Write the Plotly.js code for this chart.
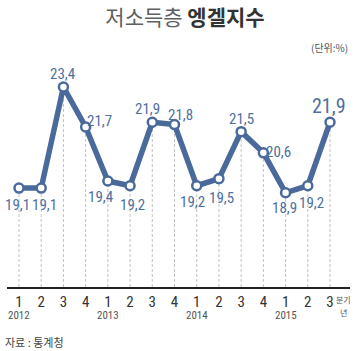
<!DOCTYPE html>
<html><head><meta charset="utf-8">
<script src="https://cdn.plot.ly/plotly-3.0.1.min.js"></script>
<style>html,body{margin:0;padding:0;background:#fff;}#chart{width:357px;height:351px;}</style>
</head><body><div id="chart"></div>
<script>
const quarters = ['1','2','3','4','1','2','3','4','1','2','3','4','1','2','3'];
const years = ['2012','2013','2014','2015'];
const yearStartIdx = [0, 4, 8, 12];
const values = [19.1, 19.1, 23.4, 21.7, 19.4, 19.2, 21.9, 21.8, 19.2, 19.5, 21.5, 20.6, 18.9, 19.2, 21.9];
// label offsets in pixels (style only)
const labelShift = [[-2,17],[3,17],[-1,-13],[14,-6],[-7,16],[2,19],[-5,-13],[6,-10],[-4,16],[3,19],[0,-13],[15,-1],[-1,15],[4,17],[-1,-16]];

const idx = values.map((v,i)=>i);
const yMin = 14.89, yMax = 24.55;
const lineColor = '#4a6a9b';
const numFont = '"Liberation Sans Narrow", "Roboto Condensed", Roboto, sans-serif';
// pixel->paper helpers (plot area: x 7..350, y 60..287)
const px = x => (x - 7) / 343;
const py = y => (287 - y) / 227;

const shapes = values.map((v,i)=>({type:'line', xref:'x', yref:'y', x0:i, x1:i, y0:yMin, y1:v,
  line:{color:'#c2c2c2', width:1, dash:'3px,2px'}, layer:'below'}));

const annotations = values.map((v,i)=>({xref:'x', yref:'y', x:i, y:v, text:v.toFixed(1).replace('.', ','),
  showarrow:false, xshift:labelShift[i][0], yshift:-labelShift[i][1],
  font:{family:numFont, size: i===values.length-1?20:15, color:'#4f6f9f'}}));

years.forEach((y,k)=>annotations.push({xref:'x', yref:'paper', x:yearStartIdx[k], y:py(315), yanchor:'middle',
  text:y, showarrow:false, font:{family:numFont, size:11, color:'#555'}}));

annotations.push({xref:'paper', yref:'paper', x:px(343), xanchor:'center', y:py(299), yanchor:'middle', text:'분기', showarrow:false, font:{family:'"Noto Sans CJK KR"', size:8, color:'#555'}});
annotations.push({xref:'paper', yref:'paper', x:px(343), xanchor:'center', y:py(312), yanchor:'middle', text:'년', showarrow:false, font:{family:'"Noto Sans CJK KR"', size:8, color:'#555'}});
annotations.push({xref:'paper', yref:'paper', x:px(350), xanchor:'right', y:py(47), yanchor:'middle', text:'(단위:%)', showarrow:false, font:{family:'"Noto Sans CJK KR"', size:10, color:'#555'}});
annotations.push({xref:'paper', yref:'paper', x:px(3), xanchor:'left', y:py(342), yanchor:'middle', text:'자료 : 통계청', showarrow:false, font:{family:'"Noto Sans CJK KR"', size:11, color:'#444'}});

const trace = {x: idx, y: values, type:'scatter', mode:'lines+markers',
  line:{color:lineColor, width:5.5}, marker:{size:9, color:'#fff', line:{color:lineColor, width:2.5}},
  hoverinfo:'none', cliponaxis:false};

const layout = {
  width:357, height:351, paper_bgcolor:'#fff', plot_bgcolor:'#fff',
  margin:{l:7, r:7, t:60, b:64},
  showlegend:false,
  title:{text:'<span style="color:#606060">저소득층</span> <b>엥겔지수</b>', x:185/357, xref:'container', xanchor:'center', y:1-18/351, yref:'container', yanchor:'middle',
    font:{family:'"Noto Sans CJK KR", sans-serif', size:21, color:'#333'}},
  xaxis:{range:[-0.54, 14.9], tickvals:idx, ticktext:quarters, showgrid:false, zeroline:false,
    showline:true, linecolor:'#222', linewidth:1.5, ticks:'', ticklen:0,
    tickfont:{family:numFont, size:15, color:'#333'}, fixedrange:true},
  yaxis:{range:[yMin, yMax], visible:false, showgrid:false, zeroline:false, fixedrange:true},
  shapes: shapes, annotations: annotations
};
Plotly.newPlot('chart', [trace], layout, {displayModeBar:false, staticPlot:true});
</script></body></html>
